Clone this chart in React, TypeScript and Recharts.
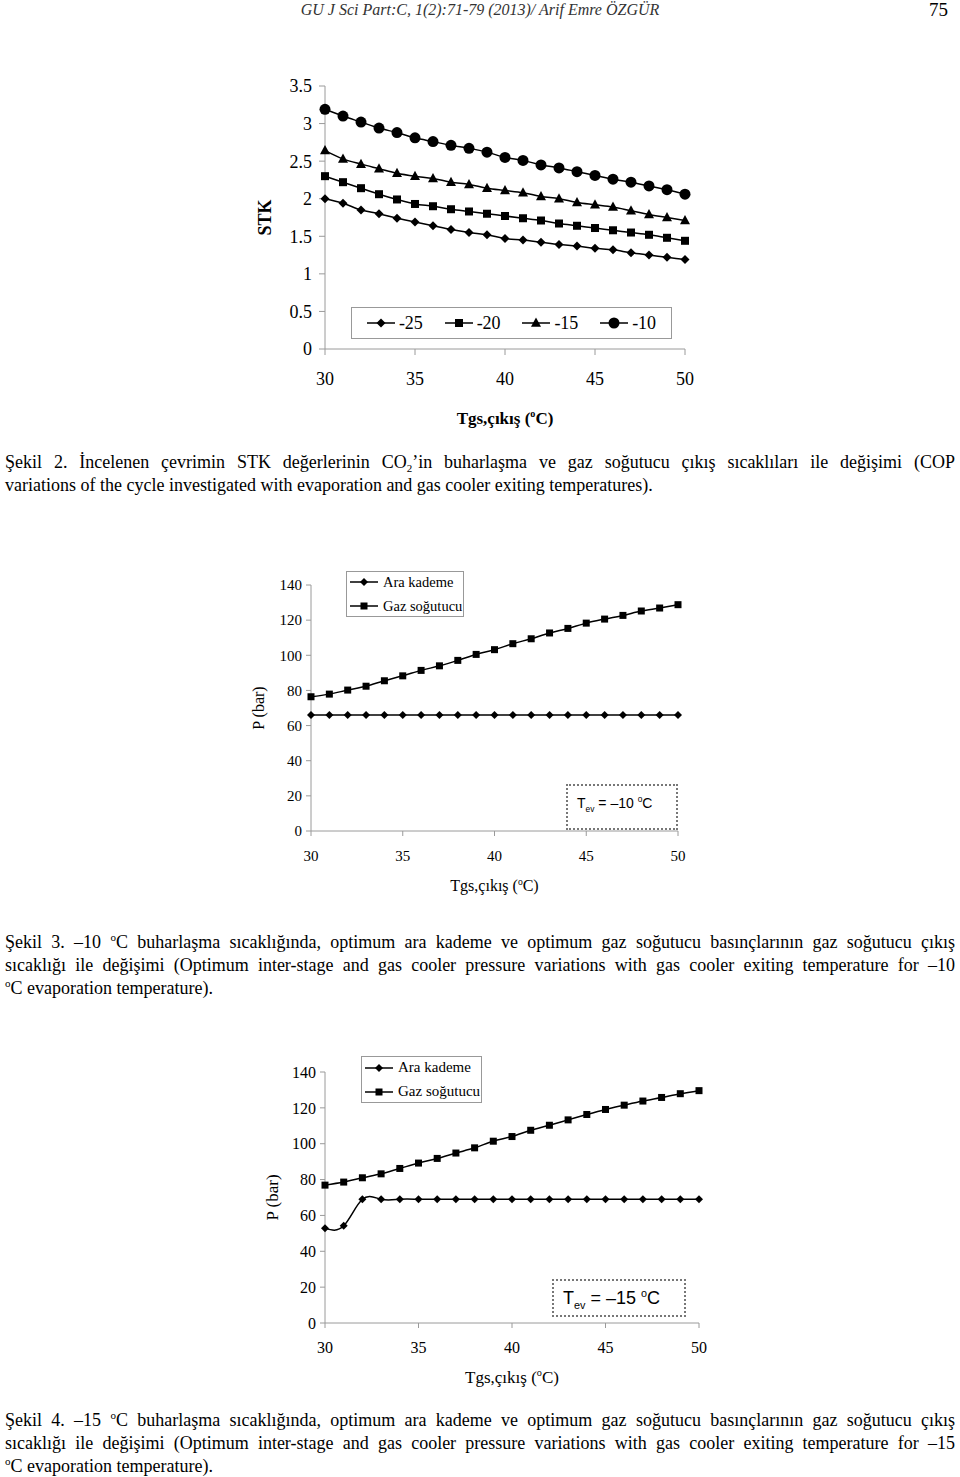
import React from "react";
import { Label, Legend, Line, LineChart, XAxis, YAxis } from "recharts";

// gas cooler exit temperature (°C)
const TEMPS = [30, 31, 32, 33, 34, 35, 36, 37, 38, 39, 40, 41, 42, 43, 44, 45, 46, 47, 48, 49, 50];
const X_TICKS = [30, 35, 40, 45, 50];

// Şekil 2 – STK for evaporation temps
const STK_M25 = [2.0, 1.94, 1.85, 1.8, 1.74, 1.69, 1.64, 1.59, 1.55, 1.52, 1.47, 1.45, 1.42, 1.39, 1.37, 1.34, 1.32, 1.28, 1.25, 1.22, 1.19];
const STK_M20 = [2.3, 2.22, 2.14, 2.06, 1.99, 1.93, 1.9, 1.86, 1.83, 1.8, 1.77, 1.74, 1.71, 1.67, 1.64, 1.61, 1.58, 1.55, 1.52, 1.48, 1.44];
const STK_M15 = [2.64, 2.53, 2.46, 2.4, 2.34, 2.3, 2.27, 2.22, 2.19, 2.14, 2.11, 2.08, 2.03, 2.0, 1.95, 1.92, 1.89, 1.84, 1.79, 1.75, 1.71];
const STK_M10 = [3.19, 3.1, 3.02, 2.94, 2.88, 2.81, 2.76, 2.71, 2.67, 2.62, 2.55, 2.51, 2.45, 2.41, 2.36, 2.31, 2.26, 2.22, 2.17, 2.12, 2.06];
const STK_TICKS = [0, 0.5, 1, 1.5, 2, 2.5, 3, 3.5];

// Şekil 3 – Tev = -10 °C
const ARA_10 = [66, 66, 66, 66, 66, 66, 66, 66, 66, 66, 66, 66, 66, 66, 66, 66, 66, 66, 66, 66, 66];
const GAZ_10 = [76.4, 77.9, 80.2, 82.4, 85.5, 88.3, 91.4, 94.0, 97.1, 100.5, 103.2, 106.6, 109.4, 112.7, 115.3, 118.3, 120.6, 122.7, 125.2, 126.9, 128.8];
// Şekil 4 – Tev = -15 °C
const ARA_15 = [52.9, 54.2, 69, 69, 69, 69, 69, 69, 69, 69, 69, 69, 69, 69, 69, 69, 69, 69, 69, 69, 69];
const GAZ_15 = [76.9, 78.6, 81.0, 83.2, 86.2, 89.2, 91.8, 94.8, 97.7, 101.4, 104.0, 107.5, 110.3, 113.3, 116.3, 119.1, 121.5, 123.8, 125.8, 127.9, 129.6];
const P_TICKS = [0, 20, 40, 60, 80, 100, 120, 140];

const SERIF = '"Liberation Serif", "Times New Roman", serif';
const SANS = '"Liberation Sans", Arial, sans-serif';
const AXIS = "#9a9a9a";

const stkData = TEMPS.map((t, i) => ({ t, m25: STK_M25[i], m20: STK_M20[i], m15: STK_M15[i], m10: STK_M10[i] }));
const p10Data = TEMPS.map((t, i) => ({ t, ara: ARA_10[i], gaz: GAZ_10[i] }));
const p15Data = TEMPS.map((t, i) => ({ t, ara: ARA_15[i], gaz: GAZ_15[i] }));

type Shape = "diamond" | "square" | "triangle" | "circle";

function markerPath(shape: Shape, cx: number, cy: number, s: number) {
  if (shape === "diamond") return <path d={`M${cx},${cy - s}L${cx + s},${cy}L${cx},${cy + s}L${cx - s},${cy}Z`} fill="#000" />;
  if (shape === "square") return <rect x={cx - s} y={cy - s} width={s * 2} height={s * 2} fill="#000" />;
  if (shape === "triangle")
    return <path d={`M${cx},${cy - s * 1.1}L${cx + s},${cy + s * 0.75}L${cx - s},${cy + s * 0.75}Z`} fill="#000" />;
  return <circle cx={cx} cy={cy} r={s} fill="#000" />;
}

function dot(shape: Shape, s: number) {
  return (props: any) => {
    const { cx, cy, index } = props;
    if (cx == null || cy == null) return <g key={index} />;
    return <g key={index}>{markerPath(shape, cx, cy, s)}</g>;
  };
}

function XTitle(fontSize: number, dy: number, bold: boolean) {
  return (props: any) => {
    const { x, y, width } = props.viewBox;
    return (
      <text x={x + width / 2} y={y + dy} textAnchor="middle" fontFamily={SERIF} fontSize={fontSize} fontWeight={bold ? "bold" : "normal"} fill="#000">
        Tgs,çıkış (
        <tspan dy={-fontSize * 0.4} fontSize={fontSize * 0.6}>o</tspan>
        <tspan dy={fontSize * 0.4}>C)</tspan>
      </text>
    );
  };
}

function YTitle(text: string, fontSize: number, dx: number, bold: boolean) {
  return (props: any) => {
    const { x, y, height } = props.viewBox;
    const cx = x + dx;
    const cy = y + height / 2;
    return (
      <text x={cx} y={cy} transform={`rotate(-90 ${cx} ${cy})`} textAnchor="middle" dominantBaseline="central" fontFamily={SERIF} fontSize={fontSize} fontWeight={bold ? "bold" : "normal"} fill="#000">
        {text}
      </text>
    );
  };
}

function LegendIcon({ shape, s, w }: { shape: Shape; s: number; w: number }) {
  return (
    <svg width={w} height={14} style={{ flexShrink: 0 }}>
      <line x1={0} y1={7} x2={w} y2={7} stroke="#000" strokeWidth={1.5} />
      {markerPath(shape, w / 2, 7, s)}
    </svg>
  );
}

function BoxLegend({ items, vertical, fontSize }: { items: { name: string; shape: Shape; s: number }[]; vertical: boolean; fontSize: number }) {
  return (
    <div
      style={{
        boxSizing: "border-box",
        width: "100%",
        height: "100%",
        border: "1px solid #999",
        background: "#fff",
        display: "flex",
        flexDirection: vertical ? "column" : "row",
        justifyContent: vertical ? "center" : "space-around",
        alignItems: vertical ? "flex-start" : "center",
        gap: vertical ? 9 : 0,
        padding: vertical ? "0 3px" : "0 4px",
        fontFamily: SERIF,
        fontSize,
        color: "#000",
        whiteSpace: "nowrap",
      }}
    >
      {items.map((it) => (
        <div key={it.name} style={{ display: "flex", alignItems: "center", gap: vertical ? 5 : 4, lineHeight: 1 }}>
          <LegendIcon shape={it.shape} s={it.s} w={28} />
          <span>{it.name}</span>
        </div>
      ))}
    </div>
  );
}

function TevBox({ left, top, width, height, fontSize, temp }: any) {
  return (
    <div
      style={{
        position: "absolute",
        left,
        top,
        width,
        height,
        boxSizing: "border-box",
        border: "2px dotted #777",
        fontFamily: SANS,
        fontSize,
        lineHeight: 1,
        color: "#000",
        paddingLeft: 9,
        paddingTop: height * 0.22,
        whiteSpace: "nowrap",
      }}
    >
      T<sub style={{ fontSize: fontSize * 0.6, lineHeight: 0 }}>ev</sub> = –{temp} <sup style={{ fontSize: fontSize * 0.6, lineHeight: 0 }}>o</sup>C
    </div>
  );
}

function Caption({ top, lines }: { top: number; lines: React.ReactNode[] }) {
  return (
    <div style={{ position: "absolute", left: 5, top, width: 950, fontFamily: SERIF, fontSize: 18, lineHeight: "23px", color: "#000" }}>
      {lines.map((l, i) => {
        const last = i === lines.length - 1;
        return (
          <div key={i} style={{ height: 23, whiteSpace: "nowrap", textAlign: last ? "left" : "justify", textAlignLast: last ? "left" : "justify" }}>
            {l}
          </div>
        );
      })}
    </div>
  );
}

const sup = (t: string) => <span style={{ fontSize: 11, position: "relative", top: -7, lineHeight: 0 }}>{t}</span>;
const sub = (t: string) => <span style={{ fontSize: 11, position: "relative", top: 4, lineHeight: 0 }}>{t}</span>;

function PressureChart({ data, left, top, width, height, margin, plotH, tickFont, legendFont, legendBox, smoothAra }: any) {
  return (
    <div style={{ position: "absolute", left, top }}>
      <LineChart width={width} height={height} data={data} margin={margin}>
        <XAxis
          dataKey="t"
          type="number"
          domain={[30, 50]}
          ticks={X_TICKS}
          height={height - margin.top - margin.bottom - plotH}
          stroke={AXIS}
          tickSize={5}
          tickMargin={14}
          tick={{ fill: "#000", fontFamily: SERIF, fontSize: tickFont }}
        >
          <Label content={XTitle(tickFont + 1, 60, false)} />
        </XAxis>
        <YAxis
          domain={[0, 140]}
          ticks={P_TICKS}
          width={60}
          stroke={AXIS}
          tickSize={5}
          tickMargin={4}
          tick={{ fill: "#000", fontFamily: SERIF, fontSize: tickFont }}
        >
          <Label content={YTitle("P (bar)", tickFont + 1, 7, false)} />
        </YAxis>
        <Legend
          layout="vertical"
          align="center"
          verticalAlign="middle"
          wrapperStyle={{ left: legendBox.left, top: legendBox.top, width: legendBox.width, height: legendBox.height }}
          content={() => (
            <BoxLegend
              vertical
              fontSize={legendFont}
              items={[
                { name: "Ara kademe", shape: "diamond", s: 4 },
                { name: "Gaz soğutucu", shape: "square", s: 3.5 },
              ]}
            />
          )}
        />
        <Line type={smoothAra ? "natural" : "monotone"} dataKey="ara" name="Ara kademe" stroke="#000" strokeWidth={1.5} dot={dot("diamond", 4)} isAnimationActive={false} />
        <Line type="monotone" dataKey="gaz" name="Gaz soğutucu" stroke="#000" strokeWidth={1.5} dot={dot("square", 3.5)} isAnimationActive={false} />
      </LineChart>
    </div>
  );
}

export default function App() {
  return (
    <div style={{ position: "absolute", left: 0, top: 0, width: 960, height: 1477, background: "#fff", overflow: "hidden" }}>
      {/* page header */}
      <div style={{ position: "absolute", left: 0, top: 1, width: 960, textAlign: "center", fontFamily: SERIF, fontStyle: "italic", fontSize: 16, lineHeight: "17px", color: "#333" }}>
        GU J Sci Part:C, 1(2):71-79 (2013)/ Arif Emre ÖZGÜR
      </div>
      <div style={{ position: "absolute", left: 929, top: 0, fontFamily: SERIF, fontSize: 19, lineHeight: "19px", color: "#000" }}>75</div>

      {/* Şekil 2 */}
      <div style={{ position: "absolute", left: 240, top: 70 }}>
        <LineChart width={470} height={370} data={stkData} margin={{ top: 16, right: 25, left: 25, bottom: 0 }}>
          <XAxis
            dataKey="t"
            type="number"
            domain={[30, 50]}
            ticks={X_TICKS}
            height={91}
            stroke={AXIS}
            tickSize={6}
            tickMargin={17}
            tick={{ fill: "#000", fontFamily: SERIF, fontSize: 18 }}
          >
            <Label content={XTitle(17, 75, true)} />
          </XAxis>
          <YAxis
            domain={[0, 3.5]}
            ticks={STK_TICKS}
            width={60}
            stroke={AXIS}
            tickSize={6}
            tickMargin={7}
            tick={{ fill: "#000", fontFamily: SERIF, fontSize: 18 }}
          >
            <Label content={YTitle("STK", 18, 0, true)} />
          </YAxis>
          <Legend
            layout="horizontal"
            align="center"
            verticalAlign="middle"
            wrapperStyle={{ left: 111, top: 237, width: 321, height: 32 }}
            content={() => (
              <BoxLegend
                vertical={false}
                fontSize={18}
                items={[
                  { name: "-25", shape: "diamond", s: 4.5 },
                  { name: "-20", shape: "square", s: 4 },
                  { name: "-15", shape: "triangle", s: 5 },
                  { name: "-10", shape: "circle", s: 5.5 },
                ]}
              />
            )}
          />
          <Line type="monotone" dataKey="m25" name="-25" stroke="#000" strokeWidth={1.5} dot={dot("diamond", 4.5)} isAnimationActive={false} />
          <Line type="monotone" dataKey="m20" name="-20" stroke="#000" strokeWidth={1.5} dot={dot("square", 4)} isAnimationActive={false} />
          <Line type="monotone" dataKey="m15" name="-15" stroke="#000" strokeWidth={1.5} dot={dot("triangle", 5)} isAnimationActive={false} />
          <Line type="monotone" dataKey="m10" name="-10" stroke="#000" strokeWidth={1.5} dot={dot("circle", 5.5)} isAnimationActive={false} />
        </LineChart>
      </div>

      <Caption
        top={451}
        lines={[
          <>Şekil 2. İncelenen çevrimin STK değerlerinin CO{sub("2")}’in buharlaşma ve gaz soğutucu çıkış sıcaklıları ile değişimi (COP</>,
          <>variations of the cycle investigated with evaporation and gas cooler exiting temperatures).</>,
        ]}
      />

      {/* Şekil 3 */}
      <PressureChart
        data={p10Data}
        left={240}
        top={560}
        width={460}
        height={340}
        margin={{ top: 25, right: 22, left: 11, bottom: 0 }}
        plotH={246}
        tickFont={15}
        legendFont={14.5}
        legendBox={{ left: 106, top: 11, width: 118, height: 46 }}
        smoothAra={false}
      />
      <TevBox left={566} top={784} width={112} height={46} fontSize={14} temp={10} />

      <Caption
        top={931}
        lines={[
          <>Şekil 3. –10 {sup("o")}C buharlaşma sıcaklığında, optimum ara kademe ve optimum gaz soğutucu basınçlarının gaz soğutucu çıkış</>,
          <>sıcaklığı ile değişimi (Optimum inter-stage and gas cooler pressure variations with gas cooler exiting temperature for –10</>,
          <>{sup("o")}C evaporation temperature).</>,
        ]}
      />

      {/* Şekil 4 */}
      <PressureChart
        data={p15Data}
        left={240}
        top={1050}
        width={480}
        height={350}
        margin={{ top: 22, right: 21, left: 25, bottom: 0 }}
        plotH={251}
        tickFont={16}
        legendFont={15}
        legendBox={{ left: 121, top: 6, width: 121, height: 47 }}
        smoothAra={true}
      />
      <TevBox left={552} top={1279} width={134} height={38} fontSize={18} temp={15} />

      <Caption
        top={1409}
        lines={[
          <>Şekil 4. –15 {sup("o")}C buharlaşma sıcaklığında, optimum ara kademe ve optimum gaz soğutucu basınçlarının gaz soğutucu çıkış</>,
          <>sıcaklığı ile değişimi (Optimum inter-stage and gas cooler pressure variations with gas cooler exiting temperature for –15</>,
          <>{sup("o")}C evaporation temperature).</>,
        ]}
      />
    </div>
  );
}
